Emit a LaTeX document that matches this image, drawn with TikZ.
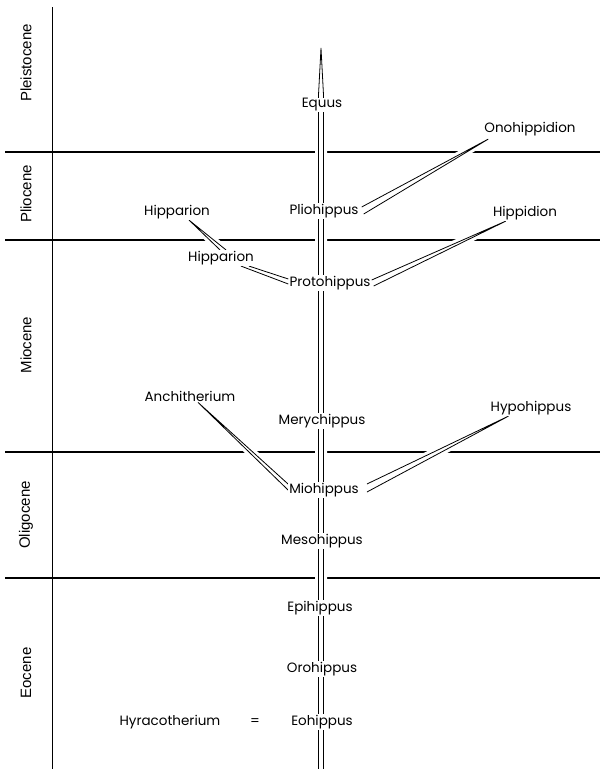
\documentclass[tikz,border=0pt]{standalone}
\usepackage{fontspec}
\setmainfont{Poppins}
\newfontfamily\erafont{Liberation Sans}
\usetikzlibrary{backgrounds}

\begin{document}
\begin{tikzpicture}[x=1pt, y=-1pt,
  every node/.style={font=\fontsize{13.5}{15}\selectfont},
  taxon/.style={fill=white, inner sep=1pt},
  era/.style={rotate=90, font=\erafont\fontsize{15}{17}\selectfont},
  stem/.style={line width=0.8pt, preaction={draw=white, line width=7pt}},
  bound/.style={line width=1.2pt}]
  \useasboundingbox (0,0) rectangle (600,769);

  % epochs
  \node[era] (pleist) at (26,63) {Pleistocene};
  \node[era] (plioc)  at (26,194) {Pliocene};
  \node[era] (mioc)   at (26,345) {Miocene};
  \node[era] (oligo)  at (26,515) {Oligocene};
  \node[era] (eoc)    at (26,673) {Eocene};

  % genera
  \node[taxon] (equus) at (322,105) {Equus};
  \node[taxon] (ono)   at (530,129) {Onohippidion};
  \node[taxon] (plio)  at (324,211) {Pliohippus};
  \node[taxon] (hipA)  at (177,212) {Hipparion};
  \node[taxon] (hipd)  at (525,213) {Hippidion};
  \node[taxon] (hipB)  at (221,258) {Hipparion};
  \node[taxon] (proto) at (330,283) {Protohippus};
  \node[taxon] (anch)  at (190,396) {Anchitherium};
  \node[taxon] (hypo)  at (531,408) {Hypohippus};
  \node[taxon] (mery)  at (322,421) {Merychippus};
  \node[taxon] (mio)   at (324,490) {Miohippus};
  \node[taxon] (meso)  at (322,541) {Mesohippus};
  \node[taxon] (epi)   at (320,608) {Epihippus};
  \node[taxon] (oro)   at (322,669) {Orohippus};
  \node[taxon] (eo)    at (322,722) {Eohippus};
  \node (hyra) at (170,722) {Hyracotherium};
  \node (eq)   at (255,722) {=};

  \coordinate (tip)  at (321,48);
  \coordinate (neck) at (321,95);
  \coordinate (base) at (321,769);
  \coordinate (top)  at (52,7);
  \coordinate (bot)  at (52,769);

  \begin{pgfonlayer}{background}
    \draw[line width=0.9pt] (top) -- (bot);
    \foreach \y in {152,240,452,578}
      \draw[bound] (5,\y) -- (600,\y);
    % trunk
    \draw[stem] ([xshift=-2.5pt]base) -- ([xshift=-2.5pt]neck) -- (tip)
      -- ([xshift=2.5pt]neck) -- ([xshift=2.5pt]base);
    % side branches
    \draw[stem] ([shift={(2pt,4pt)}]plio.east) -- ([shift={(5pt,-2pt)}]ono.south west)
      -- ([shift={(4pt,-3pt)}]plio.east);
    \draw[stem] ([xshift=12pt]hipA.south) -- ([xshift=-1pt]hipB.north)
      ([xshift=12pt]hipA.south) -- ([xshift=5pt]hipB.north);
    \draw[stem] ([xshift=20pt]hipB.south) -- ([yshift=-1pt]proto.west)
      ([xshift=28pt]hipB.south) -- ([yshift=4pt]proto.west);
    \draw[stem] ([yshift=3pt]proto.east) -- ([xshift=14pt]hipd.south west)
      -- ([shift={(2pt,-3pt)}]proto.east);
    \draw[stem] ([xshift=8pt]anch.south) -- ([yshift=6pt]mio.west)
      ([xshift=8pt]anch.south) -- (mio.west);
    \draw[stem] ([shift={(7pt,6pt)}]mio.east) -- ([xshift=19pt]hypo.south west)
      -- ([shift={(7pt,-2pt)}]mio.east);
  \end{pgfonlayer}
\end{tikzpicture}
\end{document}
